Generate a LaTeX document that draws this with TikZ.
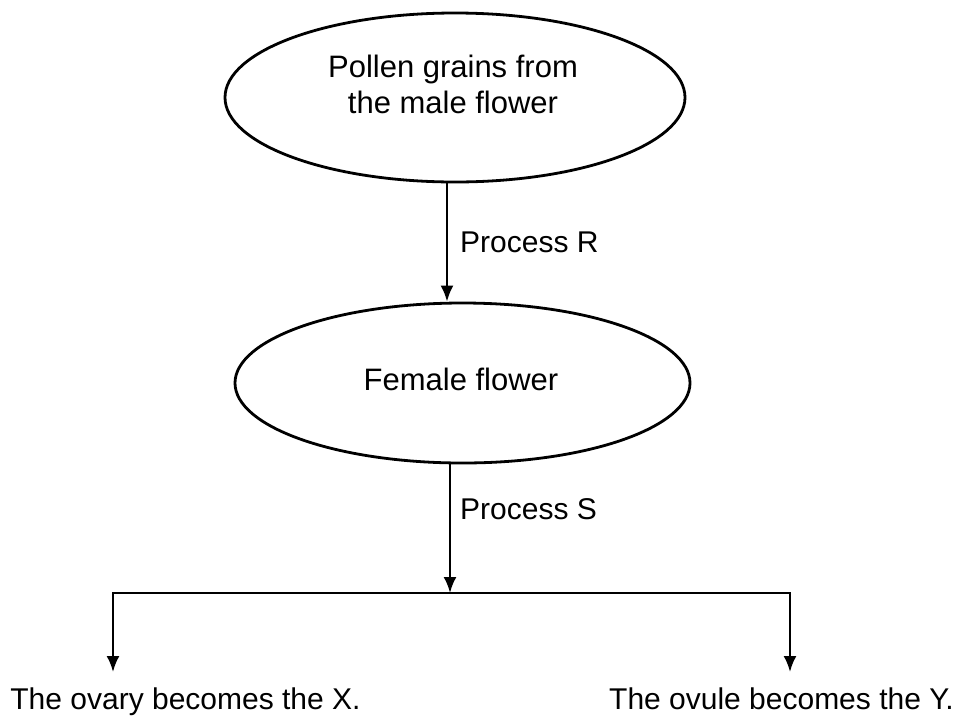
\documentclass[tikz,border=0pt]{standalone}
\usepackage{fontspec}
\setmainfont{Liberation Sans}
\usetikzlibrary{shapes.geometric,arrows.meta}
\begin{document}
\begin{tikzpicture}[x=1pt,y=-1pt,
  oval/.style={ellipse,draw=black,line width=2.8pt,inner sep=0pt},
  lbl/.style={font=\fontsize{30}{36}\selectfont,inner sep=0pt},
  arr/.style={line width=2.4pt,-{Latex[length=16pt,width=13pt]}},
  plain/.style={line width=2.8pt}]
\useasboundingbox (0,0) rectangle (960,718);
% ellipses
\node[oval,minimum width=460pt,minimum height=169pt] (pollen) at (455,97.5) {};
\node[oval,minimum width=455pt,minimum height=160pt] (female) at (462.5,383) {};
% texts
\node[lbl,align=center,anchor=base,font=\fontsize{31}{36}\selectfont] (pollentext) at (453,113) {Pollen grains from\\the male flower};
\node[lbl,anchor=base,font=\fontsize{31}{36}\selectfont] (femaletext) at (461,390) {Female flower};
\node[lbl,anchor=base west] (procR) at (460,252) {Process R};
\node[lbl,anchor=base west] (procS) at (460,519) {Process S};
\node[lbl,anchor=base] (ovary) at (185.5,709) {The ovary becomes the X.};
\node[lbl,anchor=base] (ovule) at (781.5,709) {The ovule becomes the Y.};
% connectors
\coordinate (split) at (450,593);
\coordinate (lc) at (113,593);
\coordinate (rc) at (790,593);
\coordinate (ltip) at (113,672);
\coordinate (rtip) at (790,672);
\draw[arr] ([xshift=-8pt]pollen.south) -- ([xshift=-15.5pt]female.north);
\draw[arr] ([xshift=-12.5pt]female.south) -- (split);
\draw[plain,line cap=rect] (lc) -- (rc);
\draw[arr] (lc) -- (ltip);
\draw[arr] (rc) -- (rtip);
\end{tikzpicture}
\end{document}
